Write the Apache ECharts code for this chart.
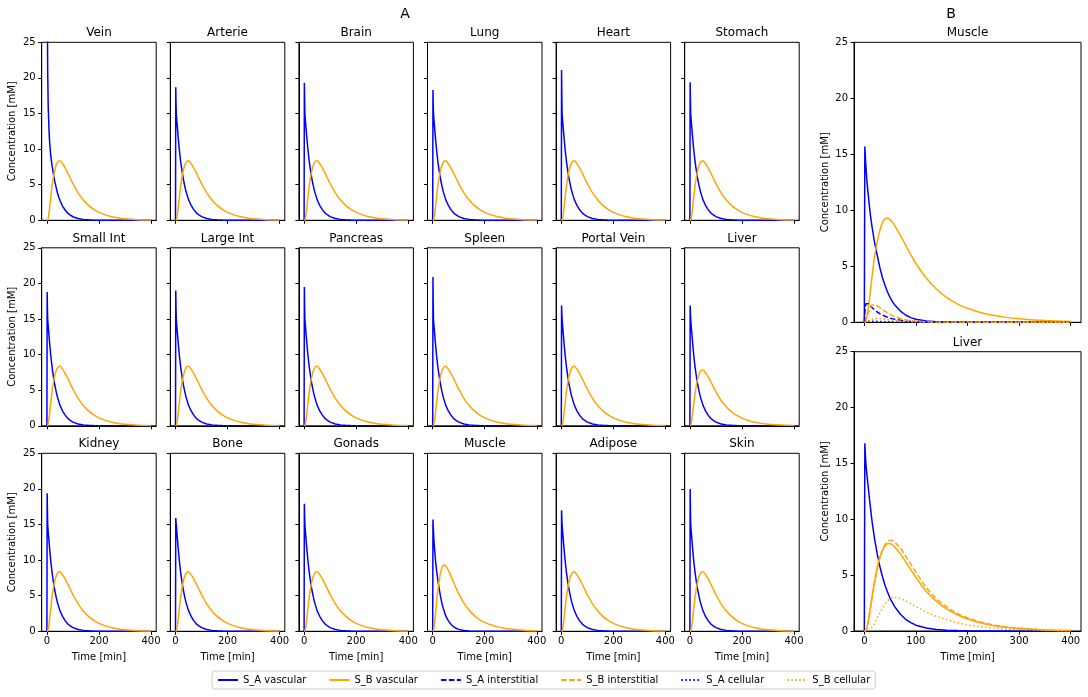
<!DOCTYPE html>
<html><head><meta charset="utf-8">
<script src="https://cdn.jsdelivr.net/npm/echarts@6/dist/echarts.min.js"></script>
<style>html,body{margin:0;padding:0;background:#fff}#c{width:1088px;height:697px}</style>
</head><body><div id="c"></div><script>
// ---------- DATA ----------
const T = [0,1,2,3,5,8,10,12,15,20,25,30,35,40,45,50,55,60,70,80,90,100,120,140,160,180,200,225,250,275,300,350,400];
const organsA = ['Vein','Arterie','Brain','Lung','Heart','Stomach','Small Int','Large Int','Pancreas','Spleen','Portal Vein','Liver','Kidney','Bone','Gonads','Muscle','Adipose','Skin'];
// S_A vascular: peak value (t=1) and value at t=2 for the panels that share the common tail
const peakA = [null,18.7,19.3,18.3,21.1,19.4,18.8,19.0,19.5,20.9,16.9,16.9,19.4,15.9,17.9,null,17.0,20.0];
const t2A   = [null,16.5,16.8,16.3,17.5,16.8,16.5,16.6,16.8,17.4,15.8,15.8,16.9,15.4,16.2,null,15.9,17.1];
// common S_A vascular tail from t=3 onward
const blueTail = [15.0,14.0,12.7,11.8,11.0,9.8,8.2,6.9,5.8,4.9,4.1,3.5,2.9,2.5,2.1,1.5,1.05,0.75,0.52,0.26,0.13,0.07,0.035,0.02,0.01,0.005,0,0,0,0];
const veinBlue = [60,36,27,21,16,12.8,11.3,10.3,9.0,7.6,6.5,5.5,4.7,3.9,3.3,2.8,2.4,2.0,1.45,1.0,0.72,0.5,0.25,0.13,0.07,0.035,0.02,0.01,0.005,0,0,0,0];
const muscleBlue = [0,15.7,14.8,14.0,12.6,11.2,10.3,9.5,8.5,7.1,6.0,4.9,4.0,3.3,2.7,2.2,1.8,1.5,1.0,0.65,0.42,0.27,0.11,0.05,0.02,0.01,0.005,0,0,0,0,0,0];
const liverBBlueHead = [0,16.8,15.8];
// S_B vascular
const orangeTypical = [0,0,0,0.05,0.3,1.0,1.6,2.3,3.3,4.9,6.1,7.0,7.7,8.1,8.3,8.35,8.2,7.95,7.35,6.65,5.9,5.15,3.85,2.85,2.1,1.55,1.12,0.76,0.5,0.33,0.22,0.09,0.035];
const orangeMuscle = [0,0,0,0.1,0.5,1.4,2.1,2.9,4.1,5.9,7.2,8.2,8.9,9.25,9.3,9.15,8.9,8.55,7.75,6.9,6.05,5.25,3.95,2.95,2.2,1.65,1.25,0.88,0.62,0.44,0.32,0.15,0.07];
const orangeLiver = [0,0,0,0.05,0.3,1.0,1.6,2.2,3.1,4.5,5.7,6.6,7.2,7.6,7.8,7.8,7.7,7.45,6.9,6.2,5.5,4.8,3.55,2.65,1.95,1.45,1.08,0.74,0.5,0.34,0.23,0.1,0.04];
// Panel B extras
const liverB_SB_inter = [0,0,0,0.03,0.2,0.8,1.4,2.0,2.9,4.3,5.5,6.5,7.2,7.7,8.0,8.1,8.1,7.9,7.4,6.7,6.0,5.25,3.9,2.9,2.15,1.58,1.17,0.8,0.54,0.36,0.25,0.1,0.04];
const liverB_SB_cell = [0,0,0,0,0,0.05,0.1,0.2,0.35,0.7,1.15,1.6,2.0,2.4,2.7,2.9,3.0,3.0,2.9,2.7,2.45,2.2,1.7,1.3,1.0,0.75,0.55,0.38,0.26,0.18,0.12,0.05,0.02];
const muscleB_SA_inter = [0,0.8,1.4,1.65,1.75,1.65,1.55,1.45,1.3,1.1,0.92,0.78,0.65,0.54,0.45,0.37,0.31,0.26,0.18,0.12,0.08,0.055,0.025,0.01,0.005,0,0,0,0,0,0,0,0];
const muscleB_SB_inter = [0,0,0.05,0.15,0.45,0.9,1.15,1.35,1.55,1.55,1.45,1.3,1.15,1.0,0.85,0.72,0.6,0.5,0.34,0.23,0.15,0.1,0.045,0.02,0.01,0,0,0,0,0,0,0,0];
const muscleB_SA_cell = [0,0.02,0.05,0.07,0.1,0.11,0.11,0.11,0.1,0.09,0.08,0.07,0.06,0.05,0.045,0.04,0.035,0.03,0.02,0.015,0.01,0.008,0.004,0.002,0,0,0,0,0,0,0,0,0];
const muscleB_SB_cell = [0,0,0,0.01,0.05,0.12,0.17,0.22,0.27,0.32,0.33,0.32,0.3,0.27,0.24,0.21,0.19,0.16,0.12,0.09,0.065,0.05,0.025,0.012,0.006,0,0,0,0,0,0,0,0];
const xTicksA = [0,200,400];
const xTicksB = [0,100,200,300,400];
const legendNames = ['S_A vascular','S_B vascular','S_A interstitial','S_B interstitial','S_A cellular','S_B cellular'];

// ---------- BUILD ----------
const FONT = 'DejaVu Sans';
const BLUE = '#0000ff', ORANGE = '#ffa500';
const STY = {
  'S_A vascular': {color:BLUE, type:'solid', smooth:false},
  'S_B vascular': {color:ORANGE, type:'solid', smooth:0.35},
  'S_A interstitial': {color:BLUE, type:[5.5,2.4], smooth:false},
  'S_B interstitial': {color:ORANGE, type:[5.5,2.4], smooth:0.35},
  'S_A cellular': {color:BLUE, type:[1.5,2.5], smooth:false},
  'S_B cellular': {color:ORANGE, type:[1.5,2.5], smooth:0.35}
};
const grids=[], xAxes=[], yAxes=[], series=[], titles=[];
const txt = {color:'#000', fontSize:10, fontFamily:FONT};
function zip(vals){ return T.map((t,i)=>[t, vals[i]]); }
function addPanel(left, top, w, h, title, showX, showY, xticks, lines){
  const i = grids.length;
  grids.push({left:left, top:top, width:w, height:h, show:true, borderColor:'#000', borderWidth:1, backgroundColor:'transparent'});
  xAxes.push({gridIndex:i, type:'value', min:-20, max:420, splitLine:{show:false},
    axisLine:{show:true, onZero:false, lineStyle:{color:'#000', width:1}},
    axisTick:{show:true, length:3.5, customValues:xticks, lineStyle:{color:'#000', width:1}},
    axisLabel:{show:showX, customValues:xticks, margin:5, ...txt},
    name: showX ? 'Time [min]' : '', nameLocation:'middle', nameGap:21, nameTextStyle:txt});
  yAxes.push({gridIndex:i, type:'value', min:0, max:25, interval:5, splitLine:{show:false},
    axisLine:{show:true, onZero:false, lineStyle:{color:'#000', width:1}},
    axisTick:{show:true, length:3.5, lineStyle:{color:'#000', width:1}},
    axisLabel:{show:showY, margin:6, ...txt},
    name: showY ? 'Concentration [mM]' : '', nameLocation:'middle', nameGap:24, nameTextStyle:txt});
  titles.push({text:title, left:left + w/2, top:top - 15, textAlign:'center', padding:0,
    textStyle:{fontSize:12, fontWeight:'normal', color:'#000', fontFamily:FONT}});
  lines.forEach(([name, vals]) => {
    const s = STY[name];
    series.push({type:'line', name:name, xAxisIndex:i, yAxisIndex:i, data:zip(vals),
      symbol:'none', showSymbol:false, clip:true, animation:false, smooth:s.smooth,
      lineStyle:{color:s.color, width:1.5, type:s.type}, itemStyle:{color:s.color}});
  });
}
const colL = 41.7, colStep = 128.6, colW = 114.5;
const rowT = 42.3, rowStep = 205.5, rowH = 178;
organsA.forEach((name, k) => {
  const r = Math.floor(k/6), c = k%6;
  let blue;
  if (name === 'Vein') blue = veinBlue;
  else if (name === 'Muscle') blue = muscleBlue;
  else blue = [0, peakA[k], t2A[k]].concat(blueTail);
  let orange = orangeTypical;
  if (name === 'Muscle') orange = orangeMuscle;
  if (name === 'Liver') orange = orangeLiver;
  addPanel(colL + c*colStep, rowT + r*rowStep, colW, rowH, name, r === 2, c === 0, xTicksA,
    [['S_A vascular', blue], ['S_B vascular', orange]]);
});
addPanel(854, 42.3, 227, 280, 'Muscle', false, true, xTicksB, [
  ['S_A vascular', muscleBlue], ['S_B vascular', orangeMuscle],
  ['S_A interstitial', muscleB_SA_inter], ['S_B interstitial', muscleB_SB_inter],
  ['S_A cellular', muscleB_SA_cell], ['S_B cellular', muscleB_SB_cell]]);
addPanel(854, 351.7, 227, 279.3, 'Liver', true, true, xTicksB, [
  ['S_A vascular', liverBBlueHead.concat(blueTail)], ['S_B vascular', orangeLiver],
  ['S_B interstitial', liverB_SB_inter], ['S_B cellular', liverB_SB_cell]]);
titles.push({text:'A', left:405, top:7, textAlign:'center', padding:0, textStyle:{fontSize:14, fontWeight:'normal', color:'#000', fontFamily:FONT}});
titles.push({text:'B', left:951, top:7, textAlign:'center', padding:0, textStyle:{fontSize:14, fontWeight:'normal', color:'#000', fontFamily:FONT}});

const chart = echarts.init(document.getElementById('c'), null, {renderer:'canvas'});
chart.setOption({
  backgroundColor:'#fff', animation:false,
  title:titles, grid:grids, xAxis:xAxes, yAxis:yAxes, series:series,
  legend:{data:legendNames, left:212, top:671, orient:'horizontal', itemWidth:20, itemHeight:10, itemGap:22,
    padding:[4,5,4,5], borderColor:'#cccccc', borderWidth:1, borderRadius:3, textStyle:txt, selectedMode:false,
    itemStyle:{opacity:0, borderWidth:0}}
});
</script></body></html>
